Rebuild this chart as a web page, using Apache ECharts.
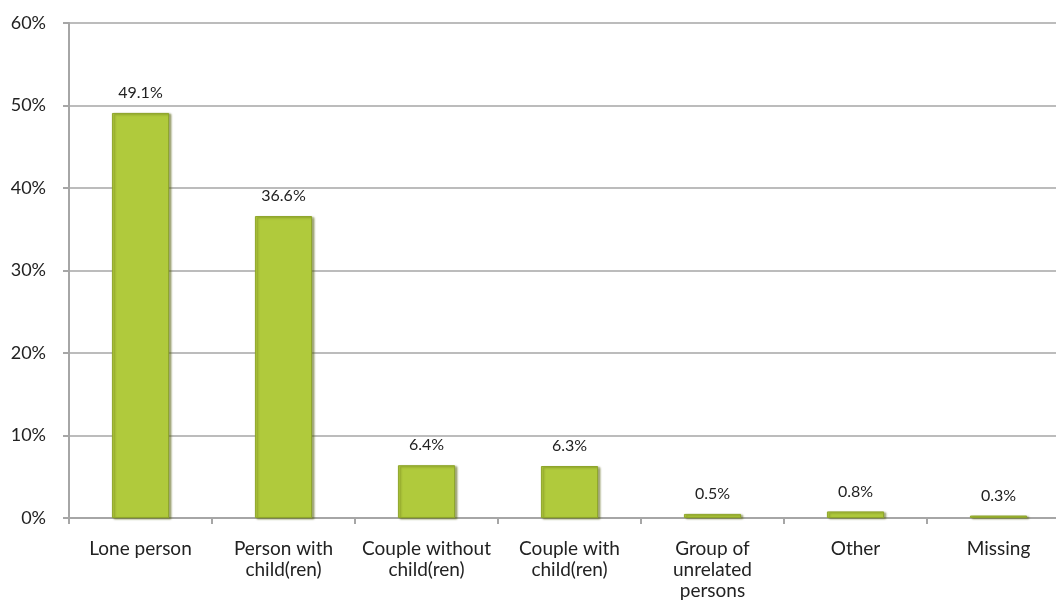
<!DOCTYPE html>
<html><head><meta charset="utf-8">
<script src="https://cdn.jsdelivr.net/npm/echarts@6/dist/echarts.min.js"></script>
<style>html,body{margin:0;padding:0;background:#fff;overflow:hidden}#c{width:1070px;height:603px}</style>
</head><body><div id="c"></div>
<script>
const categories = ['Lone person', 'Person with\nchild(ren)', 'Couple without\nchild(ren)', 'Couple with\nchild(ren)', 'Group of\nunrelated\npersons', 'Other', 'Missing'];
const values = [49.1, 36.6, 6.4, 6.3, 0.5, 0.8, 0.3];
const yTicks = [0, 10, 20, 30, 40, 50, 60];
const FONT = 'Lato, "Open Sans", sans-serif';
const chart = echarts.init(document.getElementById('c'));
chart.setOption({
  animation: false,
  grid: { left: 69, right: 0, top: 23, bottom: 85 },
  xAxis: {
    type: 'category', data: categories,
    axisLine: { lineStyle: { color: '#a6a6a6', width: 2 } },
    axisTick: { show: true, length: 6, lineStyle: { color: '#a6a6a6', width: 2 } },
    axisLabel: { color: '#222', fontFamily: FONT, fontSize: 19, lineHeight: 21, margin: 20, interval: 0 }
  },
  yAxis: {
    type: 'value', min: yTicks[0], max: yTicks[yTicks.length - 1], interval: 10,
    axisLine: { show: true, lineStyle: { color: '#a6a6a6', width: 2 } },
    axisTick: { show: true, length: 6, lineStyle: { color: '#a6a6a6', width: 2 } },
    splitLine: { lineStyle: { color: '#a6a6a6', width: 1.5 } },
    axisLabel: { color: '#222', fontFamily: FONT, fontSize: 18, margin: 23, formatter: v => v + '%' }
  },
  series: [{
    type: 'bar', data: values, barWidth: '40%',
    itemStyle: {
      color: '#b0ca3c', borderColor: '#8ea52a', borderWidth: 1,
      shadowColor: 'rgba(90,100,20,0.55)', shadowOffsetX: 2, shadowOffsetY: 1, shadowBlur: 2
    },
    label: { show: true, position: 'top', distance: 12, color: '#222', fontFamily: FONT, fontSize: 16, formatter: p => p.value.toFixed(1) + '%' }
  }]
});
</script></body></html>
